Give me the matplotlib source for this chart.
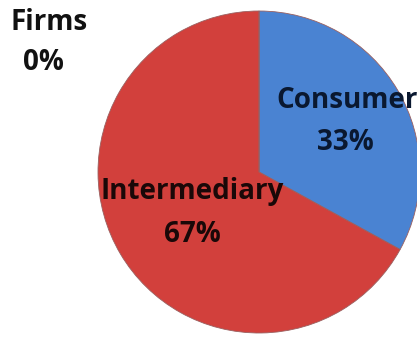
import matplotlib
matplotlib.use("Agg")
import matplotlib.pyplot as plt

labels = ["Consumer", "Intermediary", "Firms"]
values = [33, 67, 0]
colors = ["#4a83d2", "#d2403c", "#9bbb59"]
label_colors = ["#0a1830", "#1a0808", "#111111"]

W, H = 417, 339
fig = plt.figure(figsize=(W / 100, H / 100), dpi=100)
ax = fig.add_axes([0, 0, 1, 1])

cx, cy, r = 259, H - 172, 161
wedges, _ = ax.pie(values, colors=colors, startangle=90, counterclock=False,
                   center=(cx, cy), radius=r, frame=True,
                   wedgeprops=dict(edgecolor="#9a6060", linewidth=0.6))
ax.set_xlim(0, W)
ax.set_ylim(0, H)
ax.set_aspect("equal")
ax.axis("off")

font = dict(family=["Open Sans", "DejaVu Sans"], fontweight="bold", fontsize=20,
            ha="center", va="center")
name_pos = [(347, H - 100), (192, H - 192), (49, H - 22)]
pct_pos = [(345, H - 143), (192, H - 234), (43, H - 62)]
for lab, v, p, q, c in zip(labels, values, name_pos, pct_pos, label_colors):
    ax.text(p[0], p[1], lab, color=c, **font)
    ax.text(q[0], q[1], f"{v}%", color=c, **font)

fig.savefig("out.png", dpi=100)
